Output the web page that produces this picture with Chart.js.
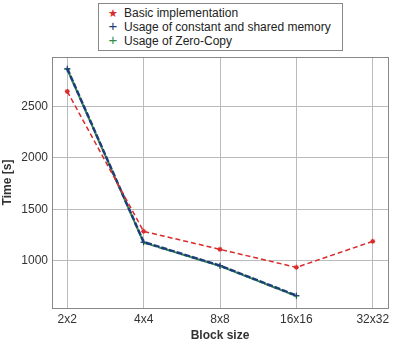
<!DOCTYPE html>
<html>
<head>
<meta charset="utf-8">
<script src="https://cdn.jsdelivr.net/npm/chart.js@4"></script>
<style>
  html, body { margin: 0; padding: 0; background: #fff; }
  #wrap { position: relative; width: 395px; height: 343px; }
  #legend {
    position: absolute; left: 98px; top: 3px; width: 245px; height: 48px;
    border: 1px solid #888; background: #fff; box-sizing: border-box;
    font-family: "Liberation Sans", sans-serif; font-size: 12px; color: #222;
    padding: 2px 0 0 8px; line-height: 14px;
  }
  #legend .m { display: inline-block; width: 12px; text-align: center; margin-right: 5px; font-size: 11px; }
  #legend .p { font-size: 15px; line-height: 12px; }
</style>
</head>
<body>
<div id="wrap">
  <canvas id="timeChart" width="395" height="343"></canvas>
  <div id="legend"></div>
</div>
<script>
const blockSizes = ['2x2', '4x4', '8x8', '16x16', '32x32'];
const basicTimes = [2645, 1285, 1110, 935, 1188];
const sharedTimes = [2867, 1181, 952, 661];
const zeroCopyTimes = [2860, 1176, 948, 656];
const yTicks = [1000, 1500, 2000, 2500];

const seriesNames = ['Basic implementation', 'Usage of constant and shared memory', 'Usage of Zero-Copy'];
const seriesColors = ['#d92b2b', '#1f3d7a', '#2e8b4a'];
const legendMarks = ['★', '+', '+'];

function pts(arr) {
    return arr.map((v, i) => ({ x: i, y: v }));
}

// cadre gris autour de la zone du graphe
const frame = {
    id: 'frame',
    afterDraw(chart) {
        const a = chart.chartArea, c = chart.ctx;
        c.save();
        c.strokeStyle = '#888';
        c.lineWidth = 1;
        c.strokeRect(Math.round(a.left) + 0.5, Math.round(a.top) + 0.5,
            Math.round(a.right - a.left), Math.round(a.bottom - a.top));
        c.restore();
    }
};

const ctx = document.getElementById('timeChart');

new Chart(ctx, {
    type: 'line',
    data: {
        datasets: [{
            label: seriesNames[0],
            data: pts(basicTimes),
            borderColor: seriesColors[0],
            backgroundColor: seriesColors[0],
            borderWidth: 1.5,
            borderDash: [5, 3],
            pointStyle: 'star',
            pointRadius: 2.5,
            pointBorderWidth: 1.2
        }, {
            label: seriesNames[1],
            data: pts(sharedTimes),
            borderColor: seriesColors[1],
            backgroundColor: seriesColors[1],
            borderWidth: 2.5,
            borderDash: [6, 2],
            pointStyle: 'cross',
            pointRadius: 3,
            pointBorderWidth: 1
        }, {
            label: seriesNames[2],
            data: pts(zeroCopyTimes),
            borderColor: seriesColors[2],
            backgroundColor: seriesColors[2],
            borderWidth: 2,
            borderDash: [6, 2],
            borderDashOffset: 3,
            pointStyle: 'cross',
            pointRadius: 3,
            pointBorderWidth: 1
        }]
    },
    options: {
        responsive: false,
        animation: false,
        layout: { padding: { top: 57, right: 7, left: 0, bottom: 0 } },
        plugins: {
            legend: { display: false },
            tooltip: { enabled: false }
        },
        scales: {
            x: {
                type: 'linear',
                min: -0.2,
                max: 4.2,
                afterBuildTicks: (s) => { s.ticks = blockSizes.map((b, i) => ({ value: i })); },
                afterFit: (s) => { s.height = 35; },
                ticks: {
                    callback: (v) => blockSizes[v],
                    color: '#333',
                    font: { family: 'Liberation Sans', size: 12 },
                    padding: 4,
                    maxRotation: 0
                },
                grid: { color: '#bbb', drawTicks: false },
                border: { color: '#888' },
                title: {
                    display: true, text: 'Block size', color: '#333',
                    font: { family: 'Liberation Sans', size: 12, weight: 'bold' },
                    padding: { top: 0, bottom: 0 }
                }
            },
            y: {
                min: 540,
                max: 2980,
                afterBuildTicks: (s) => { s.ticks = yTicks.map(v => ({ value: v })); },
                afterFit: (s) => { s.width = 52; },
                ticks: {
                    callback: (v) => String(v),
                    color: '#333',
                    font: { family: 'Liberation Sans', size: 12 },
                    padding: 4
                },
                grid: { color: '#bbb', drawTicks: false },
                border: { color: '#888' },
                title: {
                    display: true, text: 'Time [s]', color: '#333',
                    font: { family: 'Liberation Sans', size: 12, weight: 'bold' },
                    padding: { top: 0, bottom: 2 }
                }
            }
        }
    },
    plugins: [frame]
});

// legende en html
const leg = document.getElementById('legend');
seriesNames.forEach((n, i) => {
    const row = document.createElement('div');
    const cls = legendMarks[i] === '+' ? 'm p' : 'm';
    row.innerHTML = '<span class="' + cls + '" style="color:' + seriesColors[i] + '">' + legendMarks[i] + '</span>' + n;
    leg.appendChild(row);
});
</script>
</body>
</html>
